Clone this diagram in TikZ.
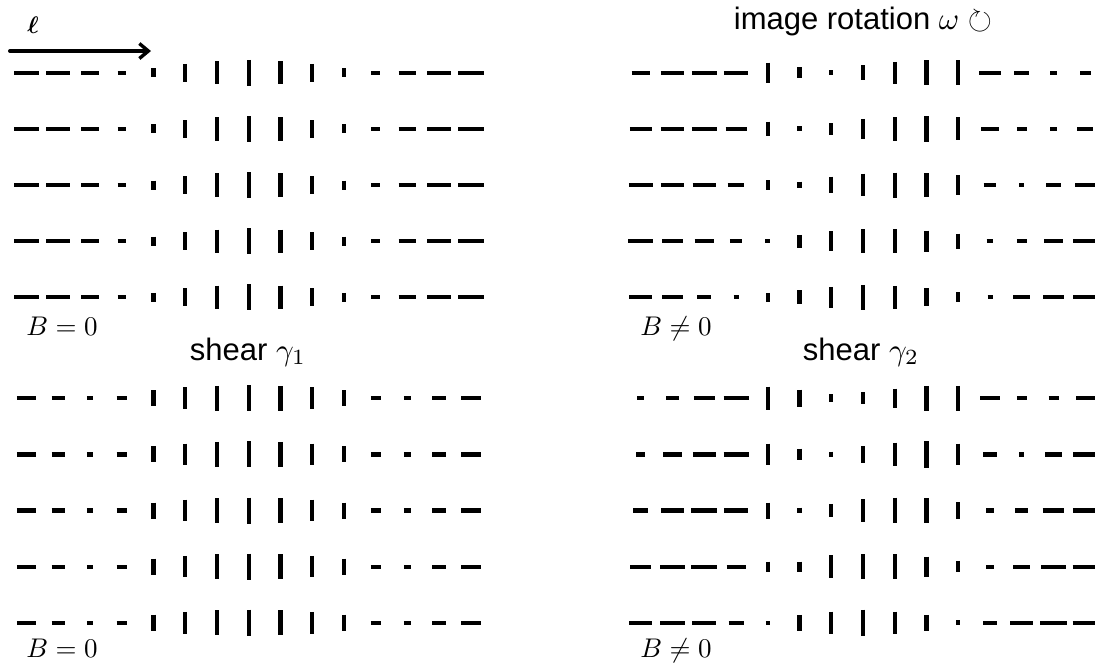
\documentclass[tikz,border=0pt]{standalone}
\usepackage{amsmath,amssymb}
\usepackage{fontspec}
\setsansfont{Liberation Sans}
\usetikzlibrary{arrows.meta}
\tikzset{
  stickline/.style={line width=4.2pt, line cap=butt, black},
  sanslabel/.style={font=\sffamily, scale=3.1, inner sep=0pt},
  mathlabel/.style={scale=2.7, inner sep=0pt},
  ellarrow/.style={line width=4pt, line cap=round, -{Straight Barb[length=9pt,width=15pt,line width=3.4pt]}},
}
% #1 = x of first stick, #2 = y of row, #3 = signed lengths (positive: horizontal, negative: vertical)
\newcommand\StickRow[3]{%
  \foreach \L [count=\i] in {#3} {%
    \draw[stickline]
      ({#1+31.75*(\i-1)-max(\L,0)/2},{#2-max(0-(\L),0)/2}) --
      ({#1+31.75*(\i-1)+max(\L,0)/2},{#2+max(0-(\L),0)/2});
  }%
}
\begin{document}
\begin{tikzpicture}[x=1pt,y=-1pt]
\useasboundingbox (0,0) rectangle (1095,662);

% ---------- top left: B = 0 ----------
\foreach \r in {0,...,4} {
  \StickRow{26.45}{72.7+56.15*\r}{24.3,24,17.3,8.3,-9,-17.7,-23.3,-25.7,-23.3,-17.7,-9,8.7,17.7,24,25.7}
}
% ---------- bottom left: B = 0 ----------
\foreach \r in {0,...,4} {
  \StickRow{26.45}{398.3+56.1*\r}{19.3,13.3,6,10,-16,-21.7,-25,-26,-25,-21.7,-16,9.7,7.3,14,19.7}
}
% ---------- top right: B != 0 ----------
\StickRow{640.75}{72.7}{18.3,23.3,24.7,24.3,-20,-11,-5,-15,-21.7,-25,-25,21.7,15,6.7,10.5}
\StickRow{640.75}{128.85}{21.7,23.3,24.7,21,-14.3,-5,-11.7,-20,-23.3,-25.7,-23,17.3,10,6.7,15.9}
\StickRow{640.75}{185}{23.7,23.3,23.3,16.7,-9.3,-6.7,-16.7,-22.7,-25,-23.3,-19.3,12.7,4.7,14.7,20.5}
\StickRow{640.75}{241.15}{25,21,19.3,12.3,5,-12.7,-20,-24.3,-24.3,-21,-15,6.7,10,18.3,23.8}
\StickRow{640.75}{297.3}{23,21,14,5,-9,-14,-21,-25,-23,-18,-10,5,16.7,20.7,24}
% ---------- bottom right: B != 0 ----------
\StickRow{640.75}{398.3}{6.7,12.7,20.7,25,-23.3,-17.3,-7.7,-11.7,-19.3,-25,-25,19.3,10,10,18.5}
\StickRow{640.75}{454.4}{8.7,18.3,22.7,25,-21.7,-11.7,-5.7,-16.7,-23.7,-26.3,-21.7,14,4.7,16.7,23.8}
\StickRow{640.75}{510.5}{15.3,22.7,25.7,23.3,-16,-5.7,-13.3,-22.3,-25.7,-24.3,-16.7,7.3,12.7,21.7,25}
\StickRow{640.75}{566.6}{20.7,25,25.7,19,-10,-10,-22.3,-25,-25,-20,-11.3,7.3,17.3,24.7,25.5}
\StickRow{640.75}{622.7}{23.3,25,24.3,15,4,-15.7,-22.3,-26,-22.3,-15.7,-5,14,22.7,26.7,25.5}

% ---------- arrow and labels ----------
\coordinate (ellstart) at (10,51);
\coordinate (ellend) at (151,51);
\draw[ellarrow] (ellstart) -- (ellend);
\node[scale=2.4, inner sep=0pt] (ell) at (33,25) {$\boldsymbol{\ell}$};

\node[sanslabel, anchor=base] (rot) at (863,29) {image rotation $\omega$ $\circlearrowright$};
\node[sanslabel, anchor=base] (sh1) at (248,360) {shear $\gamma_1$};
\node[sanslabel, anchor=base] (sh2) at (861,360) {shear $\gamma_2$};
\node[mathlabel, anchor=base] (b1) at (62,335) {$B=0$};
\node[mathlabel, anchor=base] (b2) at (676,335) {$B\neq0$};
\node[mathlabel, anchor=base] (b3) at (62,657) {$B=0$};
\node[mathlabel, anchor=base] (b4) at (676,657) {$B\neq0$};
\end{tikzpicture}
\end{document}
